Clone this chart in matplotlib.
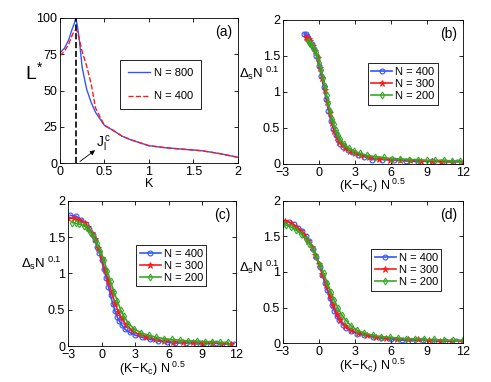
import matplotlib
matplotlib.use("Agg")
import matplotlib.pyplot as plt

plt.rcParams["font.family"] = ["Liberation Sans", "DejaVu Sans"]
plt.rcParams["mathtext.fontset"] = "custom"
plt.rcParams["mathtext.rm"] = "Liberation Sans"
plt.rcParams["mathtext.it"] = "Liberation Sans"
plt.rcParams["mathtext.default"] = "regular"
plt.rcParams["font.size"] = 9

# panel (a): L* vs K
K_a = [0, 0.05, 0.1, 0.13, 0.16, 0.18, 0.2, 0.22, 0.25, 0.3, 0.35, 0.4, 0.5, 0.6,
       0.7, 0.8, 1.0, 1.2, 1.4, 1.6, 1.8, 2.0]
L_800 = [76, 79, 85, 91, 96, 100, 93, 84, 66, 51, 42, 35, 26, 22.5, 18.5, 16, 12, 10.5,
         9.5, 8.5, 6.5, 4]
L_400 = [74, 77, 82, 87, 91, 92, 90, 85, 77, 67, 55, 38, 26, 22.5, 18.5, 16, 12, 10.5,
         9.5, 8.5, 6.5, 4]
K_c_line = 0.185

# panel (b)
bx400 = [-1.2, -1.1, -1.0, -0.9, -0.8, -0.6, -0.4, -0.2, 0.0, 0.2, 0.4, 0.6, 0.8, 1.0, 1.2,
         1.4, 1.6, 1.8, 2.0, 2.4, 2.8, 3.3, 3.8, 4.4, 5.3, 6.3, 7.3, 8.3, 9.4, 10.4, 11.5]
by400 = [1.81, 1.80, 1.78, 1.75, 1.72, 1.66, 1.59, 1.50, 1.36, 1.22, 1.07, 0.90, 0.74, 0.60,
         0.49, 0.40, 0.33, 0.28, 0.24, 0.19, 0.16, 0.12, 0.10, 0.06, 0.06, 0.05, 0.04, 0.03,
         0.04, 0.03, 0.03]
bx300 = [-1.05, -0.95, -0.85, -0.7, -0.5, -0.3, -0.1, 0.1, 0.3, 0.5, 0.7, 0.9, 1.1, 1.3, 1.5,
         1.7, 1.9, 2.2, 2.6, 3.0, 3.5, 4.2, 5.0, 5.9, 6.8, 7.6, 8.5, 9.4, 10.2, 11.1, 12.0]
by300 = [1.76, 1.75, 1.73, 1.70, 1.64, 1.57, 1.47, 1.33, 1.19, 1.03, 0.86, 0.71, 0.57, 0.46,
         0.38, 0.31, 0.27, 0.22, 0.18, 0.15, 0.12, 0.09, 0.07, 0.06, 0.05, 0.05, 0.04, 0.04,
         0.03, 0.03, 0.03]
bx200 = [-0.9, -0.8, -0.7, -0.55, -0.4, -0.25, -0.1, 0.05, 0.2, 0.35, 0.5, 0.65, 0.8, 0.95,
         1.1, 1.25, 1.4, 1.6, 1.8, 2.1, 2.5, 2.9, 3.4, 4.0, 4.7, 5.4, 6.1, 6.8, 7.5, 8.3, 9.0,
         9.7, 10.4, 11.1, 11.8]
by200 = [1.70, 1.69, 1.67, 1.64, 1.60, 1.55, 1.48, 1.40, 1.30, 1.19, 1.08, 0.96, 0.84, 0.73,
         0.63, 0.55, 0.47, 0.40, 0.34, 0.28, 0.22, 0.18, 0.15, 0.12, 0.10, 0.09, 0.07, 0.07,
         0.06, 0.06, 0.05, 0.05, 0.05, 0.04, 0.04]

# panel (c)
cx400 = [-2.8, -2.3, -1.8, -1.4, -1.1, -0.8, -0.6, -0.4, -0.2, 0.0, 0.2, 0.4, 0.6, 0.8, 1.0,
         1.2, 1.4, 1.6, 1.8, 2.1, 2.5, 3.0, 3.6, 4.3, 5.0, 5.8, 6.6, 7.5, 8.4, 9.3, 10.2, 11.1,
         11.8]
cy400 = [1.80, 1.79, 1.74, 1.68, 1.61, 1.53, 1.46, 1.37, 1.28, 1.18, 1.06, 0.94, 0.82, 0.70,
         0.58, 0.48, 0.40, 0.34, 0.29, 0.23, 0.19, 0.15, 0.12, 0.09, 0.07, 0.05, 0.04, 0.04,
         0.03, 0.03, 0.04, 0.03, 0.03]
cx300 = [-3.0, -2.5, -2.0, -1.5, -1.2, -0.9, -0.6, -0.3, 0.0, 0.3, 0.6, 0.9, 1.2, 1.5, 1.8,
         2.2, 2.7, 3.3, 4.0, 4.8, 5.6, 6.4, 7.3, 8.2, 9.0, 9.9, 10.7, 11.6]
cy300 = [1.76, 1.76, 1.73, 1.70, 1.64, 1.56, 1.47, 1.35, 1.21, 1.05, 0.89, 0.74, 0.59, 0.47,
         0.38, 0.29, 0.22, 0.16, 0.13, 0.09, 0.07, 0.06, 0.05, 0.05, 0.04, 0.04, 0.03, 0.03]
cx200 = [-2.6, -2.3, -2.0, -1.6, -1.3, -1.0, -0.7, -0.4, -0.1, 0.2, 0.5, 0.8, 1.1, 1.4, 1.7,
         2.0, 2.4, 2.9, 3.5, 4.2, 4.9, 5.6, 6.3, 7.0, 7.7, 8.5, 9.2, 9.9, 10.6, 11.3]
cy200 = [1.70, 1.69, 1.68, 1.66, 1.63, 1.57, 1.50, 1.42, 1.31, 1.18, 1.04, 0.89, 0.75, 0.62,
         0.50, 0.41, 0.31, 0.24, 0.18, 0.15, 0.12, 0.10, 0.09, 0.08, 0.07, 0.07, 0.06, 0.06,
         0.05, 0.05]

# panel (d)
dx400 = [-2.5, -2.1, -1.7, -1.4, -1.1, -0.8, -0.5, -0.2, 0.1, 0.3, 0.5, 0.7, 0.9, 1.1, 1.3,
         1.5, 1.7, 2.0, 2.3, 2.7, 3.2, 3.8, 4.5, 5.2, 6.0, 6.9, 7.8, 8.7, 9.6, 10.5, 11.4]
dy400 = [1.70, 1.67, 1.62, 1.57, 1.51, 1.43, 1.33, 1.21, 1.07, 0.96, 0.85, 0.74, 0.63, 0.53,
         0.45, 0.38, 0.32, 0.26, 0.21, 0.17, 0.13, 0.11, 0.08, 0.07, 0.05, 0.04, 0.03, 0.04,
         0.03, 0.03, 0.03]
dx300 = [-2.8, -2.3, -1.9, -1.5, -1.2, -0.9, -0.6, -0.3, 0.0, 0.3, 0.6, 0.9, 1.2, 1.5, 1.8,
         2.2, 2.7, 3.3, 4.0, 4.8, 5.6, 6.5, 7.4, 8.3, 9.2, 10.1, 11.0, 11.9]
dy300 = [1.72, 1.69, 1.64, 1.58, 1.52, 1.44, 1.35, 1.24, 1.11, 0.97, 0.82, 0.67, 0.53, 0.41,
         0.32, 0.24, 0.18, 0.14, 0.11, 0.08, 0.07, 0.06, 0.05, 0.05, 0.04, 0.03, 0.03, 0.03]
dx200 = [-3.0, -2.7, -2.3, -1.9, -1.5, -1.1, -0.8, -0.5, -0.2, 0.1, 0.4, 0.7, 1.0, 1.3, 1.6,
         1.9, 2.3, 2.7, 3.2, 3.8, 4.5, 5.2, 5.9, 6.6, 7.3, 8.0, 8.8, 9.6, 10.4, 11.2, 12.0]
dy200 = [1.67, 1.66, 1.63, 1.59, 1.54, 1.47, 1.40, 1.32, 1.22, 1.10, 0.98, 0.85, 0.72, 0.60,
         0.49, 0.40, 0.31, 0.24, 0.18, 0.14, 0.11, 0.09, 0.08, 0.07, 0.06, 0.06, 0.05, 0.05,
         0.04, 0.04, 0.04]

BLUE = "#3355ff"
RED = "#ff1a1a"
GREEN = "#33aa22"

fig = plt.figure(figsize=(4.91, 3.82), dpi=100)


def style_axes(ax):
    ax.tick_params(direction="in", length=3, width=0.6, top=True, right=True, pad=2,
                   labelsize=9)
    for s in ax.spines.values():
        s.set_linewidth(0.6)


def scaling_panel(rect, data, tag, legend_center, ylab_pos):
    ax = fig.add_axes(rect)
    (x4, y4), (x3, y3), (x2, y2) = data
    ax.plot(x4, y4, "-o", color=BLUE, mfc="none", ms=3.5, mew=0.8, lw=1.2, label="N = 400")
    ax.plot(x3, y3, "-*", color=RED, ms=4.5, mew=0.6, lw=1.2, label="N = 300")
    ax.plot(x2, y2, "-d", color=GREEN, mfc="none", ms=3.5, mew=0.8, lw=1.2, label="N = 200")
    ax.set_xlim(-3, 12)
    ax.set_ylim(0, 2)
    ax.set_xticks([-3, 0, 3, 6, 9, 12])
    ax.set_yticks([0, 0.5, 1, 1.5, 2])
    ax.set_yticklabels(["0", "0.5", "1", "1.5", "2"])
    ax.set_xlabel(r"$(K\!-\!K_c)\ N^{\ 0.5}$", labelpad=-1, fontsize=9)
    ax.text(ylab_pos[0], ylab_pos[1], r"$\Delta_s N^{\ 0.1}$", transform=ax.transAxes,
            ha="center", va="center", fontsize=9.5)
    ax.text(0.92, 0.9, tag, transform=ax.transAxes, ha="center", va="center", fontsize=10)
    leg = ax.legend(loc="center", bbox_to_anchor=legend_center, fontsize=8, fancybox=False,
                    framealpha=1, edgecolor="black", handlelength=1.9, borderpad=0.3,
                    labelspacing=0.2, handletextpad=0.25, borderaxespad=0)
    leg.get_frame().set_linewidth(0.6)
    style_axes(ax)
    return ax


# panel (a)
ax = fig.add_axes([0.122, 0.573, 0.3625, 0.380])
ax.plot(K_a, L_800, "-", color=BLUE, lw=1.0, label="N = 800")
ax.plot(K_a, L_400, "--", color=RED, lw=1.0, label="N = 400")
ax.plot([K_c_line, K_c_line], [0, 100], "--", color="black", lw=1.2)
ax.annotate("", xy=(0.42, 10), xytext=(0.2, 0),
            arrowprops=dict(arrowstyle="-|>", color="black", lw=0.6, mutation_scale=7))
ax.text(0.41, 11, r"$J_l^{\,c}$", fontsize=10)
ax.set_xlim(0, 2)
ax.set_ylim(0, 100)
ax.set_xticks([0, 0.5, 1, 1.5, 2])
ax.set_xticklabels(["0", "0.5", "1", "1.5", "2"])
ax.set_yticks([0, 25, 50, 75, 100])
ax.set_xlabel("K", labelpad=0, fontsize=9)
ax.text(-0.146, 0.63, r"$L^{*}$", transform=ax.transAxes, ha="center", va="center",
        fontsize=14)
ax.text(0.92, 0.9, "(a)", transform=ax.transAxes, ha="center", va="center", fontsize=10)
leg = ax.legend(loc="center", bbox_to_anchor=(0.565, 0.54), fontsize=8, fancybox=False,
                framealpha=1, edgecolor="black", handlelength=2.0, borderpad=0.7,
                labelspacing=1.2, handletextpad=0.4, borderaxespad=0)
leg.get_frame().set_linewidth(0.6)
style_axes(ax)

scaling_panel([0.576, 0.571, 0.3666, 0.377],
              [(bx400, by400), (bx300, by300), (bx200, by200)],
              "(b)", (0.667, 0.555), (-0.128, 0.63))
scaling_panel([0.1385, 0.0942, 0.342, 0.380],
              [(cx400, cy400), (cx300, cy300), (cx200, cy200)],
              "(c)", (0.615, 0.552), (-0.16, 0.57))
scaling_panel([0.576, 0.102, 0.3666, 0.372],
              [(dx400, dy400), (dx300, dy300), (dx200, dy200)],
              "(d)", (0.686, 0.514), (-0.128, 0.535))

fig.savefig("out.png", dpi=100)
